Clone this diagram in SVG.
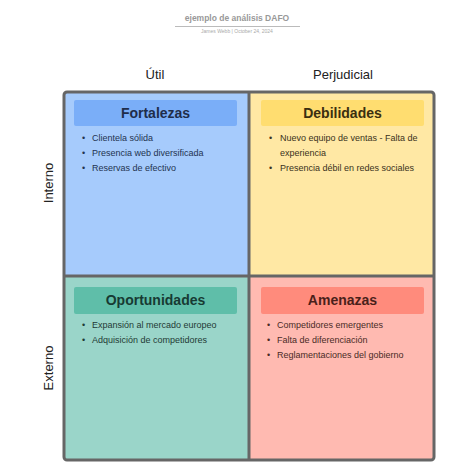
<svg xmlns="http://www.w3.org/2000/svg" width="474" height="474" viewBox="0 0 474 474">
<style>
.t{font-family:"Liberation Sans",Arial,sans-serif}
.hd{font-size:14px;font-weight:bold;text-anchor:middle}
.li{font-size:9px}
.ax{font-size:13px;fill:#222;text-anchor:middle}
.q{stroke:#666;stroke-width:3}
</style>
<rect width="474" height="474" fill="#fff"/>
<g id="title" class="t">
<text x="237" y="21" font-size="8.5" font-weight="bold" fill="#999" text-anchor="middle" class="t">ejemplo de análisis DAFO</text>
<line x1="175" y1="26.5" x2="300" y2="26.5" stroke="#aaa" stroke-width="0.8"/>
<text x="237" y="33" font-size="5" fill="#aaa" text-anchor="middle" class="t">James Webb  |  October 24, 2024</text>
</g>
<g id="axes" class="t">
<text x="155" y="79" class="ax t">Útil</text>
<text x="343" y="79" class="ax t">Perjudicial</text>
<text transform="translate(53,183) rotate(-90)" class="ax t">Interno</text>
<text transform="translate(53,368) rotate(-90)" class="ax t">Externo</text>
</g>
<g id="fortalezas">
<rect x="64" y="92" width="185" height="184" fill="#a6cbfc"/>
<rect x="74" y="100" width="163" height="26" rx="2" fill="#7aaef8"/>
<text x="155.5" y="118" class="t hd" fill="#1f2d4a">Fortalezas</text>
<g class="t li" fill="#233350">
<text x="82" y="141">•</text><text x="92" y="141">Clientela sólida</text>
<text x="82" y="156">•</text><text x="92" y="156">Presencia web diversificada</text>
<text x="82" y="171">•</text><text x="92" y="171">Reservas de efectivo</text>
</g>
</g>
<g id="debilidades">
<rect x="249" y="92" width="185" height="184" fill="#ffe8a4"/>
<rect x="261" y="100" width="163" height="26" rx="2" fill="#ffdd70"/>
<text x="342.5" y="118" class="t hd" fill="#3a2f10">Debilidades</text>
<g class="t li" fill="#3a3220">
<text x="269" y="141">•</text><text x="280" y="141">Nuevo equipo de ventas - Falta de</text>
<text x="280" y="156">experiencia</text>
<text x="269" y="171">•</text><text x="280" y="171">Presencia débil en redes sociales</text>
</g>
</g>
<g id="oportunidades">
<rect x="64" y="276" width="185" height="184" fill="#9ad5c9"/>
<rect x="74" y="287" width="163" height="27" rx="2" fill="#5fbea9"/>
<text x="155.5" y="305" class="t hd" fill="#173a33">Oportunidades</text>
<g class="t li" fill="#1f3a35">
<text x="82" y="328">•</text><text x="92" y="328">Expansión al mercado europeo</text>
<text x="82" y="343">•</text><text x="92" y="343">Adquisición de competidores</text>
</g>
</g>
<g id="amenazas">
<rect x="249" y="276" width="185" height="184" fill="#ffbab1"/>
<rect x="261" y="287" width="163" height="27" rx="2" fill="#ff8b7c"/>
<text x="342.5" y="305" class="t hd" fill="#4a1f1a">Amenazas</text>
<g class="t li" fill="#4a2a26">
<text x="267" y="328">•</text><text x="277" y="328">Competidores emergentes</text>
<text x="267" y="343">•</text><text x="277" y="343">Falta de diferenciación</text>
<text x="267" y="358">•</text><text x="277" y="358">Reglamentaciones del gobierno</text>
</g>
</g>
<g id="grid" fill="none" class="q">
<rect x="64" y="92" width="370" height="368" rx="3"/>
<line x1="249" y1="92" x2="249" y2="460"/>
<line x1="64" y1="276" x2="434" y2="276"/>
</g>
</svg>
